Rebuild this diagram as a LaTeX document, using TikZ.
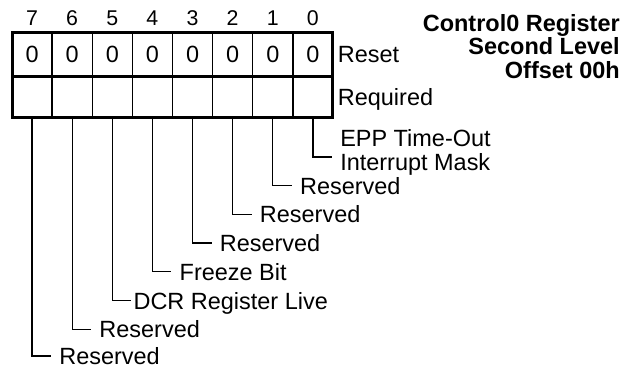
\documentclass[tikz,border=0pt]{standalone}
\usepackage{fontspec}
\setmainfont{Liberation Sans}
\usetikzlibrary{positioning}
\tikzset{
  cellbox/.style={
    draw=black,
    line width=1pt,
    inner sep=0pt,
    outer sep=0pt,
    minimum width=30.09pt,
    font=\fontsize{17.6}{18}\selectfont
  },
  resetcell/.style={cellbox, minimum height=33pt},
  reqcell/.style={cellbox, minimum height=30.75pt},
  frame/.style={draw=black, line width=2.25pt},
  leader/.style={draw=black, line width=1pt},
  bitnum/.style={inner sep=0pt, font=\fontsize{16}{16}\selectfont},
  rowlabel/.style={inner sep=0pt, text depth=0pt, font=\fontsize{17.6}{18}\selectfont},
  fieldlabel/.style={
    anchor=west,
    inner ysep=0pt,
    inner xsep=6pt,
    text depth=0pt,
    align=left,
    font=\fontsize{17.6}{18}\selectfont
  },
  headline/.style={inner sep=0pt, align=right, font=\fontsize{17.6}{17.6}\selectfont\bfseries}
}

\begin{document}
\begin{tikzpicture}[x=0.75pt,y=-0.75pt]
  \useasboundingbox (0,0) rectangle (634,368);

  % Reset row
  \node[resetcell] (s7) at (32.06,54) {0};
  \node[resetcell,right=0pt of s7] (s6) {0};
  \node[resetcell,right=0pt of s6] (s5) {0};
  \node[resetcell,right=0pt of s5] (s4) {0};
  \node[resetcell,right=0pt of s4] (s3) {0};
  \node[resetcell,right=0pt of s3] (s2) {0};
  \node[resetcell,right=0pt of s2] (s1) {0};
  \node[resetcell,right=0pt of s1] (s0) {0};

  % Required row
  \node[reqcell,below=0pt of s7] (q7) {};
  \node[reqcell,below=0pt of s6] (q6) {};
  \node[reqcell,below=0pt of s5] (q5) {};
  \node[reqcell,below=0pt of s4] (q4) {};
  \node[reqcell,below=0pt of s3] (q3) {};
  \node[reqcell,below=0pt of s2] (q2) {};
  \node[reqcell,below=0pt of s1] (q1) {};
  \node[reqcell,below=0pt of s0] (q0) {};

  \draw[frame] (s7.north west) rectangle (q0.south east);
  \draw[frame] (s7.south west) -- (s0.south east);

  % Bit numbers
  \node[bitnum,above=4.5pt of s7] (n7) {7};
  \node[bitnum,above=4.5pt of s6] (n6) {6};
  \node[bitnum,above=4.5pt of s5] (n5) {5};
  \node[bitnum,above=4.5pt of s4] (n4) {4};
  \node[bitnum,above=4.5pt of s3] (n3) {3};
  \node[bitnum,above=4.5pt of s2] (n2) {2};
  \node[bitnum,above=4.5pt of s1] (n1) {1};
  \node[bitnum,above=4.5pt of s0] (n0) {0};

  \node[rowlabel,right=3.5pt of s0] (reset) {Reset};
  \node[rowlabel,right=3.5pt of q0] (required) {Required};

  \node[headline,anchor=north east] (regname) at (620,14)
    {Control0 Register\\Second Level\\Offset 00h};

  % Field names
  \node[fieldlabel] (l0) at (332,150) {EPP Time-Out\\Interrupt Mask};
  \node[fieldlabel] (l1) at (291.8,185.7) {Reserved};
  \node[fieldlabel] (l2) at (251.7,214.4) {Reserved};
  \node[fieldlabel] (l3) at (211.6,243.1) {Reserved};
  \node[fieldlabel] (l4) at (171.4,271.8) {Freeze Bit};
  \node[fieldlabel,inner xsep=1.5pt] (l5) at (131.3,300.6) {DCR Register Live};
  \node[fieldlabel] (l6) at (91.2,329.3) {Reserved};
  \node[fieldlabel] (l7) at (51.1,356) {Reserved};

  \draw[leader] (q0.south) |- ([yshift=-5.25pt]l0.west);
  \draw[leader] (q1.south) |- (l1);
  \draw[leader] (q2.south) |- (l2);
  \draw[leader] (q3.south) |- (l3);
  \draw[leader] (q4.south) |- (l4);
  \draw[leader] (q5.south) |- (l5);
  \draw[leader] (q6.south) |- (l6);
  \draw[leader] (q7.south) |- (l7);
\end{tikzpicture}
\end{document}
